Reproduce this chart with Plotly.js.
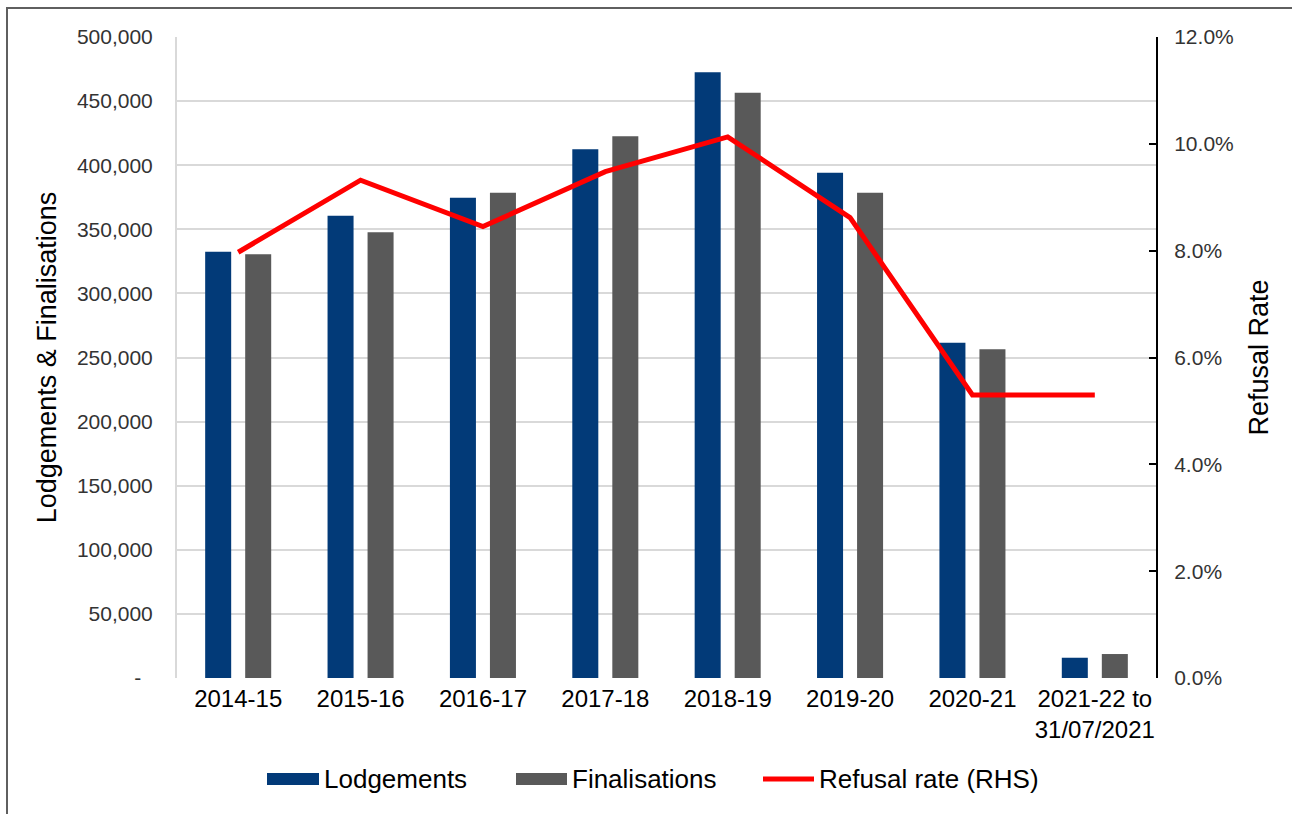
<!DOCTYPE html>
<html>
<head>
<meta charset="utf-8">
<script src="https://cdn.plot.ly/plotly-3.0.1.min.js"></script>
<style>
  html, body { margin: 0; padding: 0; background: #ffffff; }
  #wrap { position: relative; width: 1292px; height: 814px; }
  #chart { width: 1292px; height: 814px; }
  #frame { position: absolute; left: 6px; top: 7px; right: -4px; bottom: -4px;
           border-left: 2px solid #5f5f5f; border-top: 2px solid #5f5f5f; pointer-events: none; }
</style>
</head>
<body>
<div id="wrap">
  <div id="chart"></div>
  <div id="frame"></div>
</div>
<script>
const categories = ["2014-15", "2015-16", "2016-17", "2017-18", "2018-19", "2019-20", "2020-21", "2021-22 to<br>31/07/2021"];
const lodgements = [332500, 360600, 374600, 412400, 472500, 394200, 261600, 15800];
const finalisations = [330500, 347700, 378600, 422500, 456600, 378600, 256400, 18700];
const refusalRate = [0.0797, 0.0932, 0.0845, 0.0948, 0.1013, 0.0862, 0.0530, 0.0530];

const leftTickVals = [0, 50000, 100000, 150000, 200000, 250000, 300000, 350000, 400000, 450000, 500000];
const leftTickText = ["-\u00a0\u00a0", "50,000", "100,000", "150,000", "200,000", "250,000", "300,000", "350,000", "400,000", "450,000", "500,000"];
const rightTickVals = [0, 0.02, 0.04, 0.06, 0.08, 0.10, 0.12];

const seriesNames = ["Lodgements", "Finalisations", "Refusal rate (RHS)"];
const colors = { lodg: "#023A78", fin: "#595959", rate: "#FF0000" };

const FONT = "Liberation Sans, Arial, sans-serif";

// plot-area geometry (pixels) for placing the hand-made legend
const W = 1292, H = 814;
const M = { l: 177, r: 136, t: 37, b: 136 };
const PW = W - M.l - M.r, PH = H - M.t - M.b;
const px = x => (x - M.l) / PW;
const py = y => (H - M.b - y) / PH;

const traces = [
  { type: "bar", name: seriesNames[0], x: categories, y: lodgements,
    marker: { color: colors.lodg }, showlegend: false, hoverinfo: "x+y" },
  { type: "bar", name: seriesNames[1], x: categories, y: finalisations,
    marker: { color: colors.fin }, showlegend: false, hoverinfo: "x+y" },
  { type: "scatter", mode: "lines", name: seriesNames[2], x: categories, y: refusalRate,
    yaxis: "y2", line: { color: colors.rate, width: 5 }, showlegend: false }
];

const legendItems = [
  { kind: "rect", color: colors.lodg, x0: 267, x1: 319, textX: 322, label: seriesNames[0] },
  { kind: "rect", color: colors.fin, x0: 516, x1: 567, textX: 570, label: seriesNames[1] },
  { kind: "line", color: colors.rate, x0: 763, x1: 814, textX: 817, label: seriesNames[2] }
];
const legendY = 779;

const shapes = [];
const annotations = [];
legendItems.forEach(it => {
  if (it.kind === "rect") {
    shapes.push({ type: "rect", xref: "paper", yref: "paper",
      x0: px(it.x0), x1: px(it.x1), y0: py(legendY + 6), y1: py(legendY - 6),
      fillcolor: it.color, line: { width: 0 } });
  } else {
    shapes.push({ type: "line", xref: "paper", yref: "paper",
      x0: px(it.x0), x1: px(it.x1), y0: py(legendY), y1: py(legendY),
      line: { color: it.color, width: 5 } });
  }
  annotations.push({ xref: "paper", yref: "paper", x: px(it.textX), y: py(legendY),
    xanchor: "left", yanchor: "middle", showarrow: false, text: it.label,
    font: { family: FONT, size: 26, color: "#000000" } });
});

const layout = {
  width: W, height: H,
  margin: M,
  paper_bgcolor: "#ffffff", plot_bgcolor: "#ffffff",
  barmode: "group", bargap: 0.346, bargroupgap: 0.35,
  showlegend: false,
  xaxis: {
    type: "category",
    tickfont: { family: FONT, size: 24, color: "#000000" },
    showgrid: false, zeroline: false, showline: false, ticks: "",
    ticklabelstandoff: 4
  },
  yaxis: {
    range: [0, 500000],
    tickvals: leftTickVals, ticktext: leftTickText,
    tickfont: { family: FONT, size: 21, color: "#333333" },
    showgrid: true, gridcolor: "#d9d9d9", gridwidth: 2,
    zeroline: false, showline: true, linecolor: "#d9d9d9", linewidth: 2,
    ticks: "", ticklabelstandoff: 18,
    title: { text: "Lodgements & Finalisations", standoff: 12,
             font: { family: FONT, size: 27, color: "#000000" } }
  },
  yaxis2: {
    overlaying: "y", side: "right",
    range: [0, 0.12],
    tickvals: rightTickVals, tickformat: ".1%",
    tickfont: { family: FONT, size: 21, color: "#333333" },
    showgrid: false, zeroline: false,
    showline: true, linecolor: "#000000", linewidth: 2,
    ticks: "inside", ticklen: 7, tickwidth: 2, tickcolor: "#000000",
    ticklabelstandoff: 12,
    title: { text: "Refusal Rate", standoff: 16,
             font: { family: FONT, size: 27, color: "#000000" } }
  },
  shapes: shapes,
  annotations: annotations
};

Plotly.newPlot("chart", traces, layout, { displayModeBar: false, staticPlot: true });
</script>
</body>
</html>
